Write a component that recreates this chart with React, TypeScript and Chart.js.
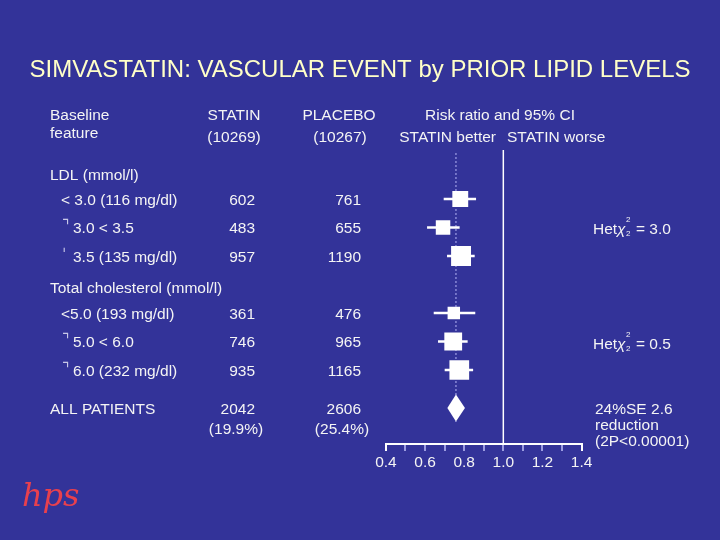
import React, { useEffect, useRef } from "react";
import { Chart, registerables } from "chart.js";

Chart.register(...registerables);

// ---------- data ----------
const titleText = "SIMVASTATIN: VASCULAR EVENT by PRIOR LIPID LEVELS";
const featureHeader = ["Baseline", "feature"];
const armNames = ["STATIN", "PLACEBO"];
const armTotals = ["(10269)", "(10267)"];
const plotHeader = "Risk ratio and 95% CI";
const directionLabels = ["STATIN better", "STATIN worse"];

const groupNames = ["LDL (mmol/l)", "Total cholesterol (mmol/l)"];
const categories = [
  "< 3.0 (116 mg/dl)",
  "3.0 < 3.5",
  "3.5 (135 mg/dl)",
  "<5.0 (193 mg/dl)",
  "5.0 < 6.0",
  "6.0 (232 mg/dl)",
];
const categoryMarks = ["", "\u231D", "\u02C8", "", "\u231D", "\u231D"];
const statinEvents = [602, 483, 957, 361, 746, 935];
const placeboEvents = [761, 655, 1190, 476, 965, 1165];
const riskRatio = [0.78, 0.692, 0.784, 0.747, 0.744, 0.775];
const ciLow = [0.697, 0.612, 0.714, 0.646, 0.668, 0.702];
const ciHigh = [0.859, 0.775, 0.852, 0.855, 0.816, 0.844];

const overallLabel = "ALL PATIENTS";
const overallEvents = [2042, 2606];
const overallPercents = ["(19.9%)", "(25.4%)"];
const overallRatio = [0.714, 0.758, 0.804]; // low, estimate, high

const hetValues = ["3.0", "0.5"];
const reductionLines = ["24%SE 2.6", "reduction", "(2P<0.00001)"];

// row slots (in row units on the hidden y scale)
const headerRows = [-1.98, -1.36, -1.19];
const groupRows = [0.12, 4.1];
const categoryRows = [1, 2, 3, 5, 6, 7];
const overallRows = [8.33, 9.05];
const hetRows = [2.08, 6.12];
const reductionRows = [8.4, 8.95, 9.5];

// ---------- styles ----------
const BG = "#333399";
const TXT = "#F4F4F4";
const FONT_FAMILY = "'Liberation Sans', Arial, sans-serif";
const BODY = `15.5px ${FONT_FAMILY}`;

const tablePlugin = {
  id: "forestTable",
  beforeDatasetsDraw(chart: any) {
    const { ctx, chartArea, scales } = chart;
    const x = scales.x;
    const y = scales.y;
    ctx.save();
    const x1 = x.getPixelForValue(1);
    ctx.strokeStyle = "#FFFFFF";
    ctx.lineWidth = 1.5;
    ctx.beginPath();
    ctx.moveTo(x1, chartArea.top);
    ctx.lineTo(x1, chartArea.bottom);
    ctx.stroke();

    const xo = x.getPixelForValue(overallRatio[1]);
    ctx.strokeStyle = "#B4B4F4";
    ctx.lineWidth = 1;
    ctx.setLineDash([2, 2]);
    ctx.beginPath();
    ctx.moveTo(xo, chartArea.top + 3);
    ctx.lineTo(xo, y.getPixelForValue(overallRows[0]) + 14);
    ctx.stroke();
    ctx.restore();
  },
  afterDatasetsDraw(chart: any) {
    const { ctx, scales } = chart;
    const x = scales.x;
    const y = scales.y;
    const yc = y.getPixelForValue(overallRows[0]);
    const half = 13.5;
    ctx.save();
    ctx.fillStyle = "#FFFFFF";
    ctx.beginPath();
    ctx.moveTo(x.getPixelForValue(overallRatio[0]), yc);
    ctx.lineTo(x.getPixelForValue(overallRatio[1]), yc - half);
    ctx.lineTo(x.getPixelForValue(overallRatio[2]), yc);
    ctx.lineTo(x.getPixelForValue(overallRatio[1]), yc + half);
    ctx.closePath();
    ctx.fill();
    ctx.restore();
  },
  afterDraw(chart: any) {
    const { ctx, scales } = chart;
    const y = scales.y;
    const ry = (r: number) => y.getPixelForValue(r) + 1.5;
    const t = (s: string, px: number, py: number, align: CanvasTextAlign = "left", font = BODY, color = TXT) => {
      ctx.font = font;
      ctx.fillStyle = color;
      ctx.textAlign = align;
      ctx.textBaseline = "middle";
      ctx.fillText(s, px, py);
    };
    ctx.save();
    // title
    t(titleText, 360, 70, "center", `24px ${FONT_FAMILY}`, "#FFFFC8");

    // headers
    t(featureHeader[0], 50, ry(headerRows[0]));
    t(featureHeader[1], 50, ry(headerRows[1]));
    t(armNames[0], 234, ry(headerRows[0]), "center");
    t(armNames[1], 339, ry(headerRows[0]), "center");
    t(armTotals[0], 234, ry(headerRows[2]), "center");
    t(armTotals[1], 340, ry(headerRows[2]), "center");
    t(plotHeader, 500, ry(headerRows[0]), "center");
    t(directionLabels[0], 496, ry(headerRows[2]), "right");
    t(directionLabels[1], 507, ry(headerRows[2]), "left");

    // groups
    groupNames.forEach((g, i) => t(g, 50, ry(groupRows[i])));

    // category rows
    categories.forEach((c, i) => {
      const py = ry(categoryRows[i]);
      if (categoryMarks[i]) {
        t(categoryMarks[i], 62, py - 2, "left", `16px 'DejaVu Sans', sans-serif`, "#C8C8E8");
        t(c, 73, py);
      } else {
        t(c, 61, py);
      }
      t(String(statinEvents[i]), 255, py, "right");
      t(String(placeboEvents[i]), 361, py, "right");
    });

    // overall
    t(overallLabel, 50, ry(overallRows[0]));
    t(String(overallEvents[0]), 255, ry(overallRows[0]), "right");
    t(String(overallEvents[1]), 361, ry(overallRows[0]), "right");
    t(overallPercents[0], 236, ry(overallRows[1]), "center");
    t(overallPercents[1], 342, ry(overallRows[1]), "center");

    // heterogeneity
    hetValues.forEach((v, i) => {
      const py = y.getPixelForValue(hetRows[i]);
      t("Het", 593, py);
      t("\u03C7", 617, py, "left", `italic 15.5px ${FONT_FAMILY}`);
      t("2", 626, py - 10, "left", `8px ${FONT_FAMILY}`);
      t("2", 626, py + 4, "left", `8px ${FONT_FAMILY}`);
      t("= " + v, 636, py);
    });

    // reduction
    reductionLines.forEach((s, i) => t(s, 595, y.getPixelForValue(reductionRows[i])));

    // logo
    t("hps", 22, 498, "left", `italic 32px 'DejaVu Serif', serif`, "#E8404E");
    ctx.restore();
  },
};

export default function App() {
  const ref = useRef<HTMLCanvasElement | null>(null);

  useEffect(() => {
    if (!ref.current) return;
    const squares = categoryRows.map((r, i) => ({ x: riskRatio[i], y: r }));
    const cis = categoryRows.map((r, i) => ({ x: [ciLow[i], ciHigh[i]], y: r }));
    const sideOf = (i: number) => 0.43 * Math.sqrt(statinEvents[i] + placeboEvents[i]);
    const chart = new Chart(ref.current, {
      type: "scatter",
      data: {
        datasets: [
          {
            type: "scatter",
            data: squares,
            pointStyle: "rect",
            pointRadius: (c: any) => sideOf(c.dataIndex) / Math.SQRT2,
            pointHoverRadius: (c: any) => sideOf(c.dataIndex) / Math.SQRT2,
            backgroundColor: "#FFFFFF",
            borderWidth: 0,
            order: 1,
          } as any,
          {
            type: "bar",
            indexAxis: "y",
            data: cis,
            barThickness: 2,
            backgroundColor: "#FFFFFF",
            borderWidth: 0,
            order: 2,
          } as any,
        ],
      },
      options: {
        animation: false,
        responsive: true,
        maintainAspectRatio: false,
        events: [],
        layout: { padding: { left: 385.9, right: 138.4, top: 150, bottom: 0 } },
        plugins: { legend: { display: false }, tooltip: { enabled: false }, title: { display: false } },
        scales: {
          x: {
            type: "linear",
            position: "bottom",
            min: 0.4,
            max: 1.4,
            offset: false,
            afterFit: (s: any) => {
              s.height = 96;
            },
            border: { display: true, color: "#FFFFFF", width: 2 },
            grid: {
              offset: false,
              drawOnChartArea: false,
              drawTicks: true,
              tickLength: 7,
              lineWidth: 2,
              color: (c: any) => (c.index === 0 || c.index === 10 ? "#FFFFFF" : "#9C9CE0"),
            },
            ticks: {
              stepSize: 0.1,
              autoSkip: false,
              maxRotation: 0,
              padding: 2,
              color: TXT,
              font: { family: "'Liberation Sans', Arial, sans-serif", size: 15.5 },
              callback: (v: any) => {
                const k = Math.round(Number(v) * 10);
                return k % 2 === 0 ? (k / 10).toFixed(1) : "";
              },
            },
          },
          y: {
            type: "linear",
            display: false,
            reverse: true,
            offset: false,
            grid: { offset: false },
            min: -0.719,
            max: 9.596,
          },
        },
      } as any,
      plugins: [tablePlugin],
    });
    return () => chart.destroy();
  }, []);

  return (
    <div style={{ position: "fixed", left: 0, top: 0, width: 720, height: 540, background: BG }}>
      <canvas ref={ref} />
    </div>
  );
}
